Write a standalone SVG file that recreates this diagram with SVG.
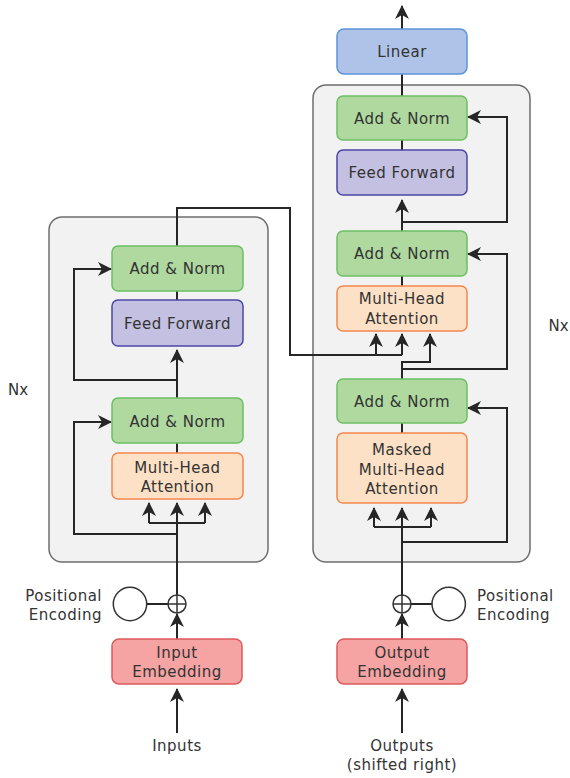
<svg xmlns="http://www.w3.org/2000/svg" width="570" height="778" viewBox="0 0 570 778">
  <defs>
    <style>
      text { font-family: "DejaVu Sans", "Noto Sans", sans-serif; font-size: 15px; fill: #333333; letter-spacing: 0.5px; }
      .c { text-anchor: middle; }
      .nx { letter-spacing: 0; }
      .stack { fill: #f2f2f2; stroke: #6e6e6e; stroke-width: 1.5; }
      .norm { fill: #afd99f; stroke: #6cbf64; stroke-width: 1.5; }
      .ff { fill: #c3c0e1; stroke: #4b47a6; stroke-width: 1.5; }
      .attn { fill: #fde1c6; stroke: #f2884e; stroke-width: 1.5; }
      .lin { fill: #aec3e7; stroke: #5d93d9; stroke-width: 1.5; }
      .emb { fill: #f5a3a3; stroke: #db5b5b; stroke-width: 1.5; }
      .pe { fill: none; stroke: #333333; stroke-width: 1.5; }
      .wire { fill: none; stroke: #262626; stroke-width: 2; }
      .arr { marker-end: url(#head); }
    </style>
    <marker id="head" viewBox="0 0 14 14" refX="13" refY="7" markerWidth="14" markerHeight="14" markerUnits="userSpaceOnUse" orient="auto">
      <path d="M0,0 L14,7 L0,14 L4,7 z" fill="#262626"/>
    </marker>
  </defs>

  <!-- layer stacks -->
  <g id="encoder-stack"><rect class="stack" x="49" y="217" width="219" height="345" rx="13"/></g>
  <g id="decoder-stack"><rect class="stack" x="313" y="85" width="217" height="477" rx="13"/></g>

  <!-- connectors -->
  <g id="connectors">
    <!-- encoder -->
    <path class="wire arr" d="M177,733 V689"/>
    <path class="wire arr" d="M177,639 V614"/>
    <path class="wire" d="M146.7,604 H168"/>
    <path class="wire arr" d="M177,595 V503"/>
    <path class="wire" d="M149,523 H205"/>
    <path class="wire arr" d="M149,523 V503"/>
    <path class="wire arr" d="M205,523 V503"/>
    <path class="wire arr" d="M177,534 H74 V422 H111"/>
    <path class="wire" d="M177,453 V443"/>
    <path class="wire arr" d="M177,398 V350"/>
    <path class="wire arr" d="M177,380 H74 V269 H111"/>
    <path class="wire" d="M177,300 V291"/>
    <!-- encoder output into decoder attention -->
    <path class="wire" d="M177,246 V208 H290 V355 H402"/>
    <path class="wire arr" d="M376,355 V334"/>
    <path class="wire arr" d="M402,355 V334"/>
    <!-- decoder -->
    <path class="wire arr" d="M402,733 V689"/>
    <path class="wire arr" d="M402,639 V614"/>
    <path class="wire" d="M411,604 H432"/>
    <path class="wire arr" d="M402,595 V508"/>
    <path class="wire" d="M374,527 H431"/>
    <path class="wire arr" d="M374,527 V508"/>
    <path class="wire arr" d="M431,527 V508"/>
    <path class="wire arr" d="M402,542 H507 V408 H468"/>
    <path class="wire" d="M402,433 V423"/>
    <path class="wire arr" d="M402,379 V362 H430 V334"/>
    <path class="wire arr" d="M402,369 H507 V254 H468"/>
    <path class="wire" d="M402,286 V276"/>
    <path class="wire arr" d="M402,231 V200"/>
    <path class="wire arr" d="M402,222 H507 V117 H468"/>
    <path class="wire" d="M402,150 V140"/>
    <path class="wire" d="M402,96 V74"/>
    <path class="wire arr" d="M402,29 V6"/>
  </g>

  <!-- encoder nodes -->
  <g id="enc-add-norm-2"><rect class="norm" x="112" y="246" width="131" height="45" rx="6"/><text class="c" x="177.5" y="274">Add &amp; Norm</text></g>
  <g id="enc-feed-forward"><rect class="ff" x="112" y="300" width="131" height="46" rx="6"/><text class="c" x="177.5" y="328.5">Feed Forward</text></g>
  <g id="enc-add-norm-1"><rect class="norm" x="112" y="398" width="131" height="45" rx="6"/><text class="c" x="177.5" y="426.5">Add &amp; Norm</text></g>
  <g id="enc-attention"><rect class="attn" x="112" y="453" width="131" height="46" rx="6"/><text class="c" x="177.5" y="472.5">Multi-Head<tspan x="177.5" dy="19.5">Attention</tspan></text></g>
  <g id="enc-positional"><circle class="pe" cx="130" cy="604" r="16.7"/><text x="102" y="601" text-anchor="end">Positional<tspan x="102" dy="19">Encoding</tspan></text></g>
  <g id="enc-sum"><circle class="pe" cx="177" cy="604" r="9"/><path class="pe" d="M168,604 H186 M177,595 V613"/></g>
  <g id="input-embedding"><rect class="emb" x="112" y="639" width="130" height="45" rx="7"/><text class="c" x="177" y="658">Input<tspan x="177" dy="18.5">Embedding</tspan></text></g>
  <g id="inputs"><text class="c" x="177" y="750.5">Inputs</text></g>
  <g id="enc-nx"><text class="nx" x="8" y="394.5">Nx</text></g>

  <!-- decoder nodes -->
  <g id="linear"><rect class="lin" x="337" y="29" width="130" height="45" rx="7"/><text class="c" x="402" y="57">Linear</text></g>
  <g id="dec-add-norm-3"><rect class="norm" x="337" y="96" width="130" height="44" rx="6"/><text class="c" x="402" y="123.5">Add &amp; Norm</text></g>
  <g id="dec-feed-forward"><rect class="ff" x="337" y="150" width="130" height="45" rx="6"/><text class="c" x="402" y="178">Feed Forward</text></g>
  <g id="dec-add-norm-2"><rect class="norm" x="337" y="231" width="130" height="45" rx="6"/><text class="c" x="402" y="259">Add &amp; Norm</text></g>
  <g id="dec-cross-attention"><rect class="attn" x="337" y="286" width="130" height="45" rx="6"/><text class="c" x="402" y="304">Multi-Head<tspan x="402" dy="19.5">Attention</tspan></text></g>
  <g id="dec-add-norm-1"><rect class="norm" x="337" y="379" width="130" height="44" rx="6"/><text class="c" x="402" y="406.5">Add &amp; Norm</text></g>
  <g id="dec-masked-attention"><rect class="attn" x="337" y="433" width="130" height="70" rx="6"/><text class="c" x="402" y="454.5">Masked<tspan x="402" dy="20">Multi-Head</tspan><tspan x="402" dy="19.5">Attention</tspan></text></g>
  <g id="dec-sum"><circle class="pe" cx="402" cy="604" r="9"/><path class="pe" d="M393,604 H411 M402,595 V613"/></g>
  <g id="dec-positional"><circle class="pe" cx="448.7" cy="604" r="16.7"/><text x="477" y="601">Positional<tspan x="477" dy="19">Encoding</tspan></text></g>
  <g id="output-embedding"><rect class="emb" x="337" y="639" width="130" height="45" rx="7"/><text class="c" x="402" y="658">Output<tspan x="402" dy="18.5">Embedding</tspan></text></g>
  <g id="outputs"><text class="c" x="402" y="750.5">Outputs<tspan x="402" dy="19.5">(shifted right)</tspan></text></g>
  <g id="dec-nx"><text class="nx" x="548.5" y="330.5">Nx</text></g>
</svg>
